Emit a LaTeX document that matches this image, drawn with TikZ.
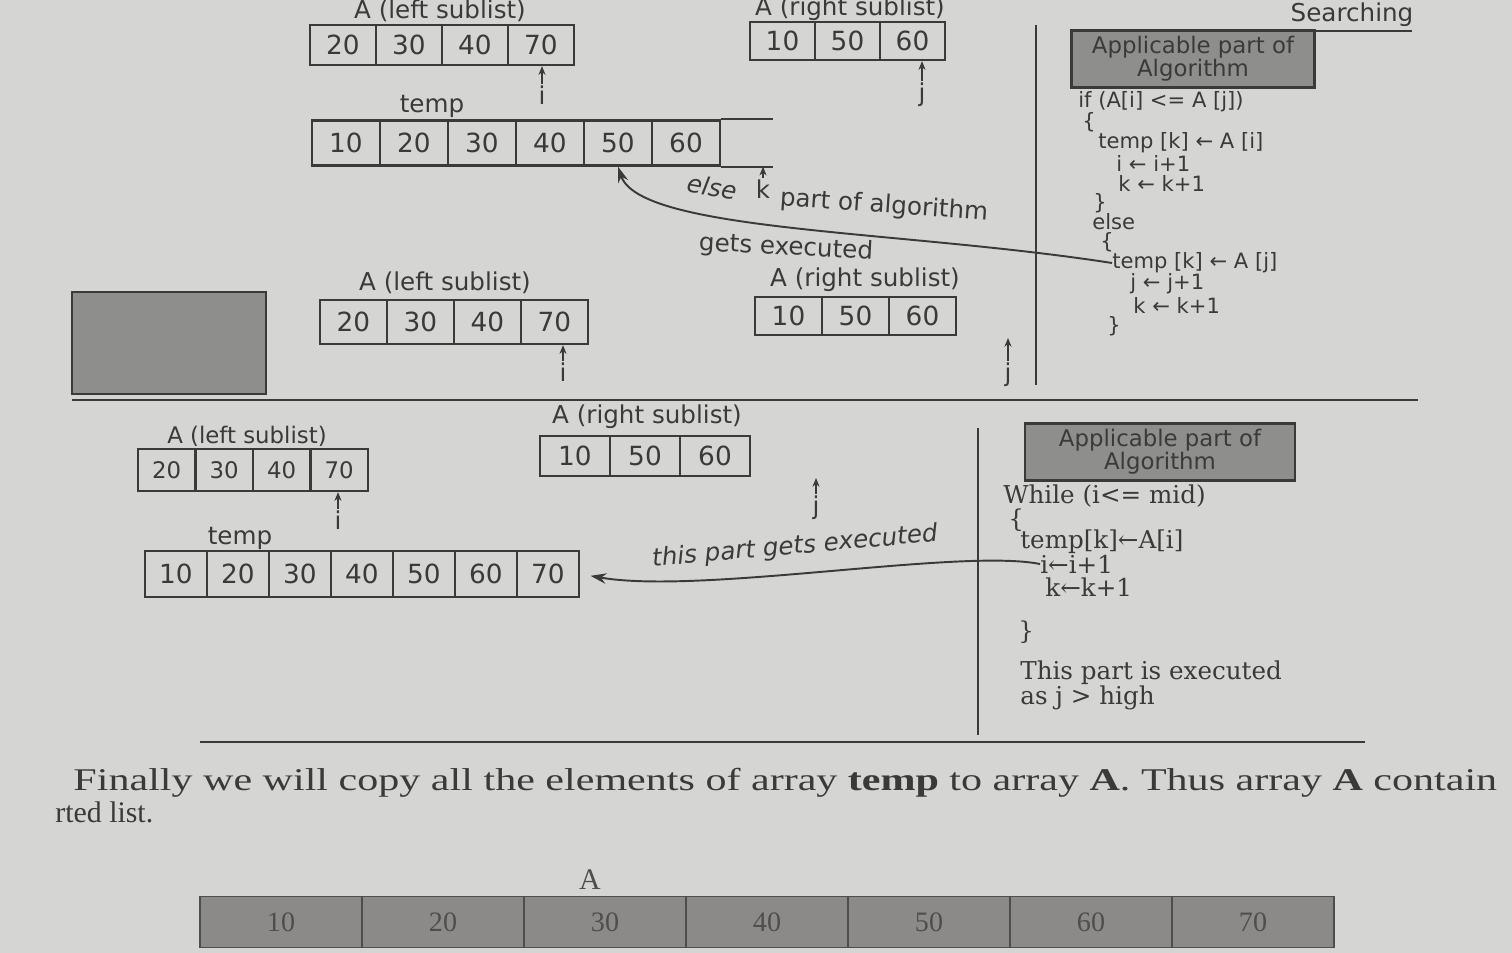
\documentclass[tikz,border=0pt]{standalone}
\usepackage{fontspec}
\setmainfont{Liberation Serif}
\setsansfont{DejaVu Sans}
\newfontfamily\codefont{DejaVu Sans}
\newfontfamily\codeserif{DejaVu Serif}
\usetikzlibrary{positioning, arrows.meta, calc}
\definecolor{paperBg}{HTML}{D5D5D3}
\definecolor{inkDark}{HTML}{3A3A3A}
\definecolor{boxGrey}{HTML}{8E8E8C}
\definecolor{bandGrey}{HTML}{8B8A88}
\definecolor{bandInk}{HTML}{4E4E4C}

\tikzset{
  cellbox/.style={draw=inkDark, line width=1.3pt, inner sep=0pt, text=inkDark, font=\sffamily\fontsize{15}{15}\selectfont},
  listlabel/.style={inner sep=1pt, text=inkDark, font=\sffamily\fontsize{14}{14}\selectfont},
  ptr/.style={-{Stealth[length=5pt,width=4pt]}, line width=0.6pt, draw=inkDark},
  flow/.style={-{Stealth[length=9pt,width=6pt]}, line width=1.1pt, draw=inkDark},
  algobox/.style={draw=inkDark, line width=1.6pt, fill=boxGrey, align=center, text=inkDark, font=\sffamily\fontsize{13}{13}\selectfont},
  codeline/.style={anchor=west, inner sep=0pt, text=inkDark, font=\codefont\fontsize{12}{12}\selectfont},
  codebot/.style={anchor=west, inner sep=0pt, text=inkDark, font=\codeserif\fontsize{14}{14}\selectfont},
  remark/.style={inner sep=1pt, text=inkDark, font=\sffamily\itshape\fontsize{14}{14}\selectfont},
  rulebox/.style={draw=inkDark, line width=1.2pt},
}

\begin{document}
\begin{tikzpicture}[x=0.02cm, y=-0.02cm]
\fill[paperBg] (0,0) rectangle (1512,953);
\useasboundingbox (0,0) rectangle (1512,953);

% running head
\node[listlabel] (head) at (1352,15) {Searching};
\draw[rulebox] (1290,31) -- (1412,31);

% ---- first step: A[i] > A[j], else branch
\node[listlabel] (topLlab) at (440,11) {A (left sublist)};
\foreach \v [count=\n] in {20,30,40,70}
  \node[cellbox, minimum width=1.32cm, minimum height=0.8cm] (topL\n) at ({310+66*\n-33},45) {\v};
\node[listlabel] (topRlab) at (850,9) {A (right sublist)};
\foreach \v [count=\n] in {10,50,60}
  \node[cellbox, minimum width=1.3cm, minimum height=0.76cm] (topR\n) at ({750+65*\n-32.5},41) {\v};
\node[listlabel] (ptrI1) at (542,95) {i};
\draw[ptr] (ptrI1.north) -- (ptrI1.north |- topL4.south);
\node[listlabel] (ptrJ1) at (922,95) {j};
\draw[ptr] (ptrJ1.north) -- (ptrJ1.north |- topR3.south);

\node[listlabel] (topTlab) at (432,106) {temp};
\foreach \v [count=\n] in {10,20,30,40,50,60}
  \node[cellbox, minimum width=1.36cm, minimum height=0.9cm] (topT\n) at ({312+68*\n-34},143) {\v};
\draw[rulebox] (topT6.north east) -- ++(52,0);
\draw[rulebox] (topT6.south east) -- ++(52,0);
\coordinate (openK) at ($(topT6.south east)+(43,0)$);
\node[listlabel] (ptrK1) at (763,189) {k};
\draw[ptr] (ptrK1.north) -- (ptrK1.north |- openK);

% algorithm, first panel
\draw[rulebox] (1036,25) -- (1036,385);
\node[algobox, minimum width=4.86cm, minimum height=1.06cm] (algoTop) at (1193,59) {Applicable part of\\Algorithm};
\node[codeline] (ifLine) at (1078,102) {if (A[i] <= A [j])};
\node[codeline] (ifOpen) at (1082,122) {\{};
\node[codeline] (ifTemp) at (1098,143) {temp [k] ← A [i]};
\node[codeline] (ifInc) at (1116,163) {i ← i+1};
\node[codeline] (ifK) at (1118,183) {k ← k+1};
\node[codeline] (ifClose) at (1093,203) {\}};
\node[codeline] (elseLine) at (1092,222) {else};
\node[codeline] (elseOpen) at (1100,242) {\{};
\node[codeline] (elseTemp) at (1112,263) {temp [k] ← A [j]};
\node[codeline] (elseInc) at (1130,284) {j ← j+1};
\node[codeline] (elseK) at (1133,305) {k ← k+1};
\node[codeline] (elseClose) at (1107,326) {\}};

\draw[flow] (elseTemp.west) .. controls (900,230) and (640,232) .. (topT5.south);
\node[remark, rotate=-10] (elseLab) at (712,187) {else};
\node[remark, font=\sffamily\fontsize{14}{14}\selectfont, rotate=-4] (partLab) at (884,206) {part of algorithm};
\node[remark, font=\sffamily\fontsize{14}{14}\selectfont, rotate=-3] (getsLab) at (786,248) {gets executed};

% ---- state after the step
\node[listlabel] (midLlab) at (445,283) {A (left sublist)};
\foreach \v [count=\n] in {20,30,40,70}
  \node[cellbox, minimum width=1.34cm, minimum height=0.88cm] (midL\n) at ({320+67*\n-33.5},322) {\v};
\node[listlabel] (midRlab) at (865,280) {A (right sublist)};
\foreach \v [count=\n] in {10,50,60}
  \node[cellbox, minimum width=1.34cm, minimum height=0.76cm] (midR\n) at ({755+67*\n-33.5},316) {\v};
\node[listlabel] (ptrI2) at (563,372) {i};
\draw[ptr] (ptrI2.north) -- (ptrI2.north |- midL4.south);
\coordinate (jEnd2) at (1008,338);
\node[listlabel] (ptrJ2) at (1008,375) {j};
\draw[ptr] (ptrJ2.north) -- (jEnd2);

% margin note
\draw[draw=inkDark, line width=1pt, fill=boxGrey] (72,292) rectangle (266,394);
\draw[rulebox] (72,400) -- (1418,400);

% ---- second step: j > high, copy rest of left sublist
\node[listlabel, font=\sffamily\fontsize{13}{13}\selectfont] (botLlab) at (247,436) {A (left sublist)};
\foreach \v [count=\n] in {20,30,40,70}
  \node[cellbox, font=\sffamily\fontsize{13}{13}\selectfont, minimum width=1.15cm, minimum height=0.84cm] (botL\n) at ({138+57.5*\n-28.75},470) {\v};
\node[listlabel] (botRlab) at (647,417) {A (right sublist)};
\foreach \v [count=\n] in {10,50,60}
  \node[cellbox, minimum width=1.4cm, minimum height=0.8cm] (botR\n) at ({540+70*\n-35},456) {\v};
\node[listlabel] (ptrI3) at (338,520) {i};
\draw[ptr] (ptrI3.north) -- (ptrI3.north |- botL4.south);
\coordinate (jEnd3) at (816,478);
\node[listlabel] (ptrJ3) at (816,508) {j};
\draw[ptr] (ptrJ3.north) -- (jEnd3);

\node[listlabel] (botTlab) at (240,538) {temp};
\foreach \v [count=\n] in {10,20,30,40,50,60,70}
  \node[cellbox, minimum width=1.24cm, minimum height=0.92cm] (botT\n) at ({145+62*\n-31},574) {\v};

% algorithm, second panel
\draw[rulebox] (978,428) -- (978,735);
\node[algobox, minimum width=5.4cm, minimum height=1.04cm] (algoBot) at (1160,452) {Applicable part of\\Algorithm};
\node[codebot] (whileLine) at (1003,496) {While (i<= mid)};
\node[codebot] (whileOpen) at (1008,520) {\{};
\node[codebot] (whileTemp) at (1020,542) {temp[k]←A[i]};
\node[codebot] (whileI) at (1040,564) {i←i+1};
\node[codebot] (whileK) at (1045,587) {k←k+1};
\node[codebot] (whileClose) at (1018,632) {\}};
\node[codebot] (noteA) at (1020,673) {This part is executed};
\node[codebot] (noteB) at (1020,698) {as j > high};

\draw[flow, shorten >=6pt] (whileI.west) .. controls (960,548) and (700,595) .. (botT7.east);
\node[remark, rotate=5] (thisLab) at (795,547) {this part gets executed};

\draw[rulebox] (200,742) -- (1365,742);

% ---- text and the final array
\node[anchor=base west, inner sep=0pt, xscale=1.33, text=inkDark, font=\fontsize{18}{18}\selectfont] (finalText) at (73,790) {Finally we will copy all the elements of array \textbf{temp} to array \textbf{A}. Thus array \textbf{A} contain};
\node[anchor=base west, inner sep=0pt, text=inkDark, font=\fontsize{17}{17}\selectfont] (finalText2) at (55,822) {rted list.};

\node[inner sep=0pt, text=bandInk, font=\fontsize{17}{17}\selectfont] (arrLab) at (590,880) {A};
\foreach \v [count=\n] in {10,20,30,40,50,60,70}
  \node[draw=bandInk, line width=0.8pt, fill=bandGrey, inner sep=0pt, text=bandInk, font=\fontsize{16}{16}\selectfont, minimum width=3.24cm, minimum height=1.02cm] (arrA\n) at ({200+162*\n-81},922) {\v};
\end{tikzpicture}
\end{document}
